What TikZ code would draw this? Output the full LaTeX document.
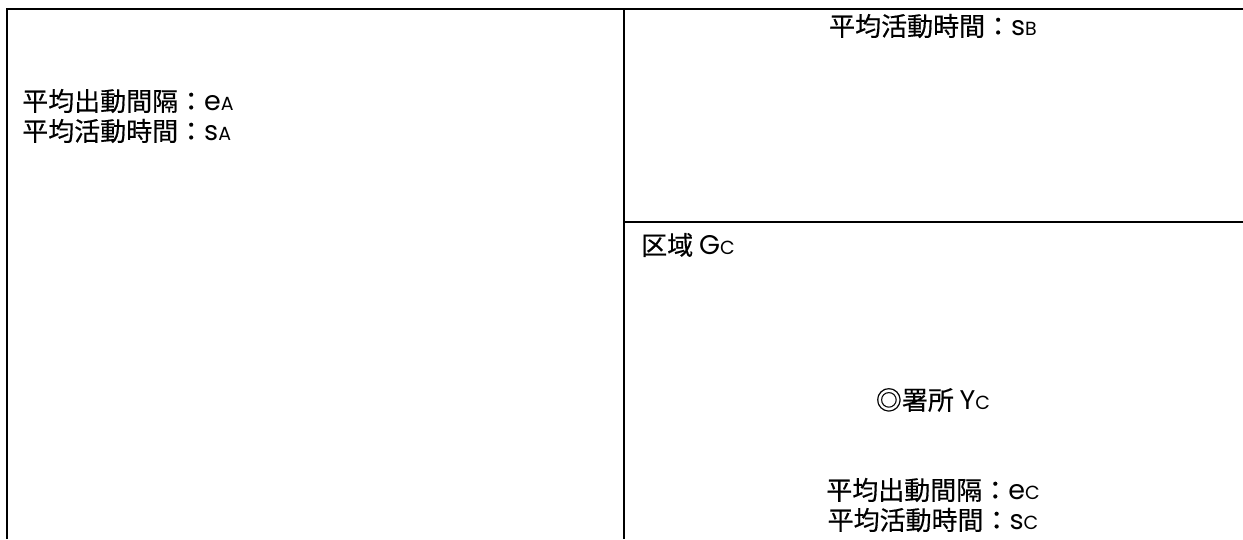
\documentclass[tikz,border=0pt]{standalone}
\usepackage{fontspec}
\setmainfont{Poppins}
\newfontfamily\cjk[FakeBold=0.4]{Noto Sans CJK JP}
\newfontfamily\lat{Poppins}
\newcommand{\mainlat}[1]{{\lat\fontsize{27}{30}\selectfont #1}}
\newcommand{\sub}[1]{{\lat\fontsize{19}{19}\selectfont #1}}
\begin{document}
\begin{tikzpicture}[x=1pt,y=-1pt,
  border/.style={line width=2pt,black},
  lbl/.style={inner sep=0pt,font=\cjk\fontsize{26}{30}\selectfont}]
\useasboundingbox (0,0) rectangle (1243,539);
\coordinate (tl) at (7,9);
\coordinate (tr) at (1243,9);
\coordinate (bl) at (7,539);
\coordinate (mt) at (624,9);
\coordinate (mb) at (624,539);
\coordinate (hl) at (624,222);
\coordinate (hr) at (1243,222);
\draw[border] (bl) -- (tl) -- (tr);
\draw[border] (mt) -- (mb);
\draw[border] (hl) -- (hr);
\node[lbl,anchor=west] (a1) at (22,101) {平均出動間隔：\mainlat{e}\sub{A}};
\node[lbl,anchor=west] (a2) at (22,131) {平均活動時間：\mainlat{s}\sub{A}};
\node[lbl] (b1) at (933,26) {平均活動時間：\mainlat{s}\sub{B}};
\node[lbl,anchor=west] (c0) at (641,245) {区域 \mainlat{G}\sub{C}};
\node[lbl] (c1) at (933,400) {◎署所 \mainlat{Y}\sub{C}};
\node[lbl] (c2) at (933,490) {平均出動間隔：\mainlat{e}\sub{C}};
\node[lbl] (c3) at (933,520) {平均活動時間：\mainlat{s}\sub{C}};
\end{tikzpicture}
\end{document}
